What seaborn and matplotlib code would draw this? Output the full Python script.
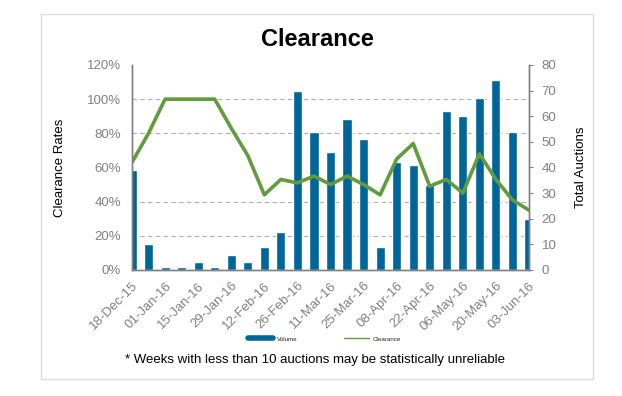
import matplotlib
matplotlib.use('Agg')
import matplotlib.pyplot as plt
from matplotlib.patches import Rectangle
from matplotlib.lines import Line2D
from matplotlib.ticker import PercentFormatter
import seaborn as sns
import pandas as pd

sns.set_style('white')
plt.rcParams['font.family'] = ['Liberation Sans', 'DejaVu Sans']

# weekly data
weeks = ['18-Dec-15', '25-Dec-15', '01-Jan-16', '08-Jan-16', '15-Jan-16', '22-Jan-16',
         '29-Jan-16', '05-Feb-16', '12-Feb-16', '19-Feb-16', '26-Feb-16', '04-Mar-16',
         '11-Mar-16', '18-Mar-16', '25-Mar-16', '01-Apr-16', '08-Apr-16', '15-Apr-16',
         '22-Apr-16', '29-Apr-16', '06-May-16', '13-May-16', '20-May-16', '27-May-16',
         '03-Jun-16']
volume = [39, 10, 1, 1, 3, 1, 6, 3, 9, 15, 70, 54, 46, 59, 51, 9, 42, 41, 33, 62,
          60, 67, 74, 54, 20]
clearance = [0.63, 0.80, 1.00, 1.00, 1.00, 1.00, 0.83, 0.67, 0.44, 0.53, 0.51, 0.55,
             0.50, 0.55, 0.50, 0.44, 0.65, 0.74, 0.49, 0.53, 0.45, 0.68, 0.53, 0.41,
             0.35]

df = pd.DataFrame({'week': weeks, 'volume': volume, 'clearance': clearance})
df['pos'] = range(len(df))

bar_color = '#006699'
line_color = '#629a3e'
grey = '#808080'

fig = plt.figure(figsize=(6.22, 3.96), dpi=100)
fig.patches.append(Rectangle((0.0667, 0.0422), 0.886, 0.9237, transform=fig.transFigure,
                             fill=False, edgecolor='#dcdcdc', linewidth=1))

ax_bar = fig.add_axes([0.2122, 0.3182, 0.6383, 0.5177])
ax_line = ax_bar.twinx()

# bars (volume) on the right-hand axis
sns.barplot(data=df, x='pos', y='volume', color=bar_color, width=0.55,
            saturation=1, ax=ax_bar, zorder=2)
ax_bar.set_xlim(0, len(df) - 1)
ax_bar.set_ylim(0, 80)
ax_bar.set_yticks(range(0, 81, 10))
ax_bar.set_yticks([80 * k / 6 for k in range(1, 7)], minor=True)
ax_bar.grid(which='minor', axis='y', color='#b0b0b0', linestyle=(0, (4, 3)), linewidth=0.8)
ax_bar.grid(which='major', axis='y', visible=False)

# clearance line on the left-hand axis
sns.lineplot(data=df, x='pos', y='clearance', color=line_color, linewidth=2.6,
             ax=ax_line)
ax_line.set_ylim(0, 1.2)
ax_line.set_yticks([0, 0.2, 0.4, 0.6, 0.8, 1.0, 1.2])
ax_line.yaxis.set_major_formatter(PercentFormatter(xmax=1, decimals=0))

ax_bar.yaxis.tick_right()
ax_bar.yaxis.set_label_position('right')
ax_bar.tick_params(axis='y', which='major', direction='out', length=3, width=0.8,
                   color=grey, labelcolor=grey, labelsize=9.5, pad=6)
ax_bar.tick_params(axis='y', which='minor', length=0)
ax_bar.set_ylabel('Total Auctions', fontsize=9.5, color='black')
ax_bar.yaxis.set_label_coords(1.115, 0.5)

ax_line.yaxis.tick_left()
ax_line.yaxis.set_label_position('left')
ax_line.tick_params(axis='y', length=0, labelcolor=grey, labelsize=9.5, pad=8)
ax_line.set_ylabel('Clearance Rates', fontsize=9.5, color='black')
ax_line.yaxis.set_label_coords(-0.165, 0.5)

ax_bar.set_xticks(df['pos'][::2])
ax_bar.set_xticklabels(df['week'][::2], rotation=45, ha='right', rotation_mode='anchor')
ax_bar.tick_params(axis='x', length=0, labelcolor=grey, labelsize=9.5, pad=7)
ax_bar.set_xlabel('')
ax_line.set_xlabel('')

for a in (ax_bar, ax_line):
    a.spines['top'].set_visible(False)
    for s in ('left', 'right', 'bottom'):
        a.spines[s].set_color(grey)
        a.spines[s].set_linewidth(1)

fig.text(0.511, 0.899, 'Clearance', ha='center', va='center', fontsize=17,
         fontweight='bold', color='black')

handles = [Line2D([], [], color=bar_color, linewidth=4),
           Line2D([], [], color=line_color, linewidth=1)]
fig.legend(handles, ['Volume', 'Clearance'], loc='center', bbox_to_anchor=(0.522, 0.144),
           ncol=2, frameon=False, fontsize=4.5, handlelength=4, columnspacing=7.5,
           handletextpad=0.6)

fig.text(0.507, 0.091, '* Weeks with less than 10 auctions may be statistically unreliable',
         ha='center', va='center', fontsize=9.5, color='black')

fig.savefig('out.png', dpi=100)
